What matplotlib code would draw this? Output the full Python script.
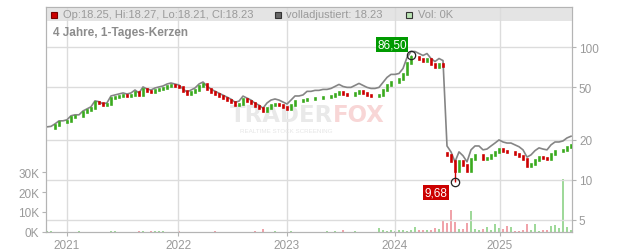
import numpy as np
import matplotlib.pyplot as plt
from matplotlib.patches import Rectangle
from matplotlib.ticker import NullLocator

plt.rcParams['font.family'] = ['Liberation Sans', 'DejaVu Sans']

close = [24.6, 24.8, 25.9, 27.3, 27.3, 27.8, 29.8, 30.3, 30.3, 32.4,
         33.6, 34.8, 38.6, 38.0, 36.6, 37.3, 41.4, 42.1, 42.8, 43.6,
         42.8, 43.6, 45.9, 43.6, 48.4, 46.7, 45.9, 47.5, 48.4, 49.2,
         50.9, 51.8, 50.9, 50.0, 46.7, 44.3, 45.9, 47.5, 50.9, 52.7,
         48.4, 45.9, 44.3, 42.8, 41.4, 40.0, 38.6, 36.6, 37.3, 40.7,
         39.3, 38.0, 36.0, 34.8, 33.0, 34.8, 36.6, 37.3, 36.6, 35.4,
         34.2, 36.6, 39.3, 39.3, 40.0, 40.7, 40.7, 41.4, 41.4, 42.1,
         42.1, 42.8, 44.3, 45.9, 44.3, 43.6, 43.6, 45.1, 46.7, 45.1,
         43.6, 42.8, 42.8, 43.6, 47.5, 51.8, 54.6, 54.6, 57.5, 62.7,
         75.8, 84.1, 84.1, 81.2, 78.5, 81.2, 74.5, 70.7, 74.5, 71.9,
         15.4, 13.9, 11.7, 13.9, 13.0, 11.7, 14.4, 15.4, 15.4, 14.4,
         14.6, 15.4, 16.2, 17.1, 16.5, 16.2, 16.2, 15.7, 15.2, 14.4,
         12.7, 13.2, 14.2, 14.9, 14.6, 14.4, 15.7, 16.5, 16.5, 16.8,
         17.7, 18.23]

# Volumen in Tausend
volume = [0.6, 0.4, 0, 0, 0, 0, 0, 0, 0.5, 0,
          0, 0, 0, 0, 0, 0, 0.7, 0.6, 0, 0,
          0, 0, 0, 0.7, 0.5, 0, 0.7, 0.7, 0.7, 0.6,
          0, 0, 0, 0.5, 0, 0, 0, 0, 0, 0,
          0, 0, 0.6, 0, 0, 0, 0, 0, 0, 0,
          0, 0, 0.6, 0, 1.7, 0, 0, 0.6, 0, 0,
          0, 0.5, 0, 0, 0, 0, 0, 0, 0, 0,
          0.6, 0, 0.7, 0, 0.9, 0, 0, 0.5, 0, 0,
          0, 0, 0, 2.0, 0.8, 0.6, 0.8, 0.7, 0.9, 0.8,
          0.7, 1.0, 2.6, 0.8, 0.8, 0.9, 1.0, 2.0, 1.4, 6.0,
          4.3, 11.0, 5.2, 1.4, 1.7, 4.3, 10.7, 1.7, 0.8, 1.4,
          2.6, 1.0, 3.8, 2.0, 1.4, 3.1, 2.6, 0.6, 0.7, 0.8,
          3.8, 1.0, 3.8, 0.6, 1.0, 0.8, 3.1, 3.4, 2.0, 26.5,
          2.6, 1.0]

# Eröffnung nach Kurslücke
gap_open = {100: 16.0}

# Faktor der volladjustierten Linie (ab Index)
adj_steps = [(0, 1.02), (16, 1.035), (40, 1.05), (55, 1.09), (65, 1.14), (88, 1.10), (100, 1.17)]

year_pos = [5.0, 32.75, 60.0, 87.0, 113.25]
year_labels = ['2021', '2022', '2023', '2024', '2025']
price_ticks = [5, 10, 20, 50, 100]
vol_ticks = [0, 10, 20, 30]

peak = (91, 86.50)
low = (102, 9.68)

legend_texts = ['Op:18.25, Hi:18.27, Lo:18.21, Cl:18.23', 'volladjustiert: 18.23', 'Vol: 0K']

W, H = 632, 253
GRID = '#dcdcdc'
SPINE = '#b4b4b4'
TXT = '#9a9a9a'
RED = '#cc0000'
GREEN = '#3aaa1e'

close = np.array(close)
x = np.arange(len(close))
opens = np.r_[close[0], close[:-1]]
for k, v in gap_open.items():
    opens[k] = v
up = close >= opens

factor = np.ones(len(close))
for start, f in adj_steps:
    factor[start:] = f
adj = close * factor

fig = plt.figure(figsize=(W / 100, H / 100), dpi=100)
ax = fig.add_axes([46 / W, 20 / H, 526 / W, 225 / H])
ax2 = ax.twinx()

# volume (links)
vcol = np.where(up, '#9fd99a', '#f0a3aa')
ax.bar(x, volume, width=0.4, color=vcol, zorder=2)
ax.set_ylim(0, 112.5)
ax.set_yticks(vol_ticks)
ax.set_yticklabels([f'{v}K' for v in vol_ticks])
ax.set_xlim(-0.25, 131.25)
ax.set_xticks(year_pos)
ax.set_xticklabels(year_labels)
ax.tick_params(axis='both', length=3, color=SPINE, labelcolor=TXT, labelsize=8.5, pad=2)

# kurs (rechts, log)
ax2.set_yscale('log')
ax2.set_ylim(4.06, 200)
ax2.set_yticks(price_ticks)
ax2.set_yticklabels([str(p) for p in price_ticks])
ax2.yaxis.set_minor_locator(NullLocator())
ax2.set_axisbelow(True)
ax2.grid(axis='y', color=GRID, lw=1)
ax2.tick_params(axis='y', length=3, color=SPINE, labelcolor=TXT, labelsize=8.5, pad=2)
for p in year_pos:
    ax2.axvline(p, color=GRID, lw=1, zorder=0.6)

for a in (ax, ax2):
    for s in a.spines.values():
        s.set_color(SPINE)

# Kopfband
ax2.add_patch(Rectangle((0, 1 - 14 / 225), 1, 14 / 225, transform=ax2.transAxes,
                        facecolor='#e4e4e4', edgecolor='none', zorder=0.2))

# Wasserzeichen
ax2.text((333 - 46) / 526, 0.52, 'TRADER', transform=ax2.transAxes, ha='right', va='center',
         fontsize=16.5, fontweight='bold', family='DejaVu Sans', color='#e9e9e9', zorder=0.7)
ax2.text((333 - 46) / 526, 0.52, 'FOX', transform=ax2.transAxes, ha='left', va='center',
         fontsize=16.5, fontweight='bold', family='DejaVu Sans', color='#f8d6d6', zorder=0.7)
ax2.text((286 - 46) / 526, 0.452, 'REALTIME STOCK SCREENING', transform=ax2.transAxes,
         ha='center', va='center', fontsize=4.5, color='#e6e6e6', zorder=0.7)

# volladjustierte Linie
ax2.plot(x, adj, color='#858585', lw=1.2, zorder=2)

# Kerzen
lo = np.minimum(opens, close)
hi = np.maximum(opens, close)
ax2.vlines(x[up], lo[up], hi[up], color=GREEN, lw=1.9, capstyle='projecting', zorder=3)
ax2.vlines(x[~up], lo[~up], hi[~up], color=RED, lw=1.9, capstyle='projecting', zorder=3)

# Dochte an Hoch / Tief
ax2.vlines(peak[0], hi[peak[0]], peak[1], color=RED if not up[peak[0]] else GREEN, lw=1, zorder=3)
ax2.vlines(low[0], low[1], lo[low[0]], color=RED if not up[low[0]] else GREEN, lw=1, zorder=3)

# Hoch / Tief
for (px, pv), col, dy in ((peak, '#009a00', 7.6), (low, RED, -7.8)):
    ax2.plot(px, pv, 'o', ms=6, mfc='none', mec='#222222', mew=0.9, zorder=5)
    ax2.annotate(f'{pv:.2f}'.replace('.', ','), xy=(px, pv), xytext=(-13.5, dy),
                 textcoords='offset points', ha='center', va='center', color='white',
                 fontsize=8.5, zorder=6,
                 bbox=dict(boxstyle='square,pad=0.12', fc=col, ec='none'))

# Legende im Kopfband
sq = [(51, RED, '#7a0000'), (275, '#666666', '#333333'), (406, '#b9e3b2', '#333333')]
tx = [63, 286, 418]
for (sx, fc, ec), tpx, t in zip(sq, tx, legend_texts):
    fig.add_artist(Rectangle((sx / W, 1 - 18.5 / H), 6 / W, 6 / H, transform=fig.transFigure,
                             facecolor=fc, edgecolor=ec, lw=0.8, zorder=5))
    fig.text(tpx / W, 1 - 15.5 / H, t, color=TXT, fontsize=8, va='center', ha='left', zorder=5)

fig.text(53 / W, 1 - 33 / H, '4 Jahre, 1-Tages-Kerzen', color='#8c8c8c', fontsize=8.5,
         fontweight='bold', va='center', ha='left')

fig.savefig('out.png', dpi=100)
